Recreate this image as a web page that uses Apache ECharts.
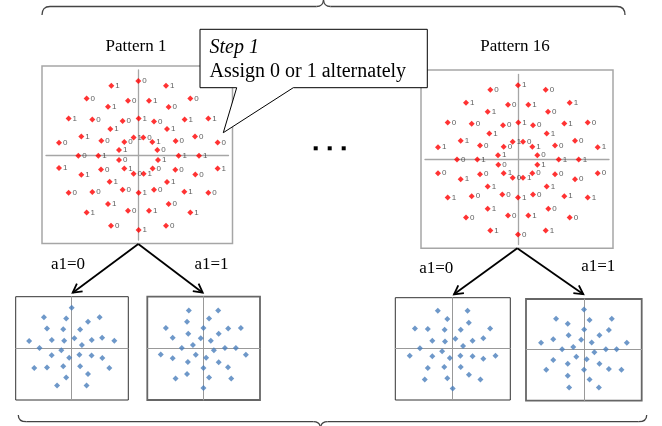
<!DOCTYPE html>
<html><head><meta charset="utf-8">
<script src="https://cdn.jsdelivr.net/npm/echarts@6/dist/echarts.min.js"></script>
<style>html,body{margin:0;padding:0;background:#fff}#c{width:662px;height:426px}</style>
</head><body><div id="c"></div>
<script>
// ---- text ----
const patternNames = ['Pattern 1', 'Pattern 16'];
const branchNames = ['a1=0', 'a1=1'];
const calloutTitle = 'Step 1';
const calloutText = 'Assign 0 or 1 alternately';

// ---- Pattern 1 constellation (x, y, assigned bit) ----
const p1X = [0,-27,27.7,-51.7,52,-10.3,10.7,-30.3,30.3,-69.7,-46,-15.7,0.3,15.7,46.3,70,-28,28.7,-57,-37,-14,-4.7,5,14,37.3,56.7,-79.3,79.3,-19.3,19,-60,-40,40.3,60.7,-19.3,19.7,-79.3,-37.3,-14,14.3,37,79.3,-57,-4.7,5.3,57,-28.7,28.7,-69.7,-46,-15.7,0.3,15.7,46,70,-30.3,30.3,-10.3,10.7,-51.7,52,-27.3,27.7,0.3];
const p1Y = [74.7,70,70,57.3,57.3,55,55,49,48.7,37.3,36.3,34.7,37.3,34.3,36.3,37.3,26.7,26.7,19.3,15,13.7,18.3,18.3,13.7,14.7,19.3,13,13.3,5.7,5.7,0,0,0,0,-4.3,-4.3,-12.3,-13.7,-12.7,-12.7,-14,-12.7,-19,-18,-18,-18.7,-26,-26.3,-37,-36.3,-34,-37,-34,-36,-37,-48.3,-48.3,-55,-55,-56.7,-56.7,-70,-70,-74.3];
const p1Bit = [0,1,1,0,0,0,1,1,0,1,0,0,1,0,1,1,1,1,1,0,0,1,0,1,0,0,0,0,1,0,0,1,1,1,0,1,1,0,1,0,0,1,1,0,1,0,1,1,0,0,0,1,0,1,0,1,0,0,1,1,1,0,0,1];

// ---- Pattern 16 constellation (x, y, assigned bit) ----
const p16X = [0,-27.7,27.7,-52,51.7,-10,10.3,-30.3,30,-70.3,-46.3,-15,0.3,15,46.3,69.7,-28.7,28.7,-80,-57.3,-38,-14.3,-5.3,5,14.3,37,57,79.7,-20,19.3,-61,-40.7,40.7,60.7,-19.7,19.3,-80,-57.3,-38,-14.3,-5.3,5,14.3,37,57,79.7,-30.3,28.7,-70.3,-46.3,-15.7,0,15,46.3,69.7,-30.3,30.3,-10,10.3,-52,51.7,-27.7,27.7,0];
const p16Y = [74.3,69.7,69.7,56.7,56.7,54.7,54.7,47.7,47.7,37,35.7,34.3,37,34.3,36,37,26,26,12.3,18.7,14,12.7,17.7,17.7,12.7,14,18.7,12.3,4.3,4.3,0,0,0,0,-5.3,-5.3,-13.7,-19.7,-14.7,-13.7,-18.3,-18.3,-13.7,-14.7,-19.7,-13.7,-27,-27,-38,-36.7,-35,-38,-35,-36.7,-38,-49.3,-49.3,-56,-56,-58,-58,-71,-71,-75];
const p16Bit = [1,0,0,1,1,0,1,1,0,0,0,0,1,0,1,0,1,1,1,1,0,0,1,0,1,0,0,1,1,0,0,1,1,1,0,1,0,1,0,1,0,1,0,0,0,0,1,1,1,0,0,1,0,1,1,1,0,0,1,0,0,1,1,0];

function pts(X, Y, B, keep) {
  const out = [];
  for (let i = 0; i < X.length; i++) {
    if (keep === undefined || B[i] === keep) out.push([X[i], Y[i], String(B[i])]);
  }
  return out;
}

// ---- layout (pixels) ----
const panels = [
  {left:46, top:70, width:182.5, height:170, x:[-92.3,90.2], y:[-84.3,85.7], big:true, set:0},
  {left:425, top:74.5, width:184, height:170, x:[-93,91], y:[-85,85], big:true, set:1},
  {left:15.7, top:296.7, width:112.6, height:103.3, x:[-104.3,105.4], y:[-96.8,95.5], set:0, bit:0, border:'#333', bw:1},
  {left:147.3, top:296.7, width:112.7, height:103.3, x:[-104.3,105.6], y:[-96.8,95.5], set:0, bit:1, border:'#666', bw:1.8},
  {left:395.3, top:297.7, width:115, height:102.3, x:[-106.9,107.3], y:[-96.3,94.2], set:1, bit:0, border:'#333', bw:1},
  {left:526, top:299, width:115.7, height:101.7, x:[-108,107.4], y:[-95.7,93.7], set:1, bit:1, border:'#666', bw:1.8}
];
const sets = [[p1X, p1Y, p1Bit], [p16X, p16Y, p16Bit]];

const grid = [], xAxis = [], yAxis = [], series = [];
panels.forEach((p, i) => {
  grid.push({left:p.left, top:p.top, width:p.width, height:p.height,
    show: !p.big, borderColor: p.border || '#aaa', borderWidth: p.bw || 1, backgroundColor:'transparent'});
  const ax = {gridIndex:i, type:'value', axisTick:{show:false}, axisLabel:{show:false}, splitLine:{show:false},
    axisLine:{show:true, onZero:true, lineStyle:{color: p.big ? '#a6a6a6' : '#999', width: p.big ? 1.3 : 1}}};
  xAxis.push(Object.assign({min:p.x[0], max:p.x[1]}, ax));
  yAxis.push(Object.assign({min:p.y[0], max:p.y[1]}, ax));
  const s = sets[p.set];
  series.push({
    type:'scatter', xAxisIndex:i, yAxisIndex:i, silent:true, animation:false,
    data: p.big ? pts(s[0], s[1], s[2]) : pts(s[0], s[1], s[2], p.bit),
    symbol:'diamond', symbolSize:6,
    itemStyle:{color: p.big ? '#ff0000' : '#4a7ebb'},
    label: p.big ? {show:true, position:'right', distance:1, formatter: d => d.data[2],
      fontSize:8, color:'#333', fontFamily:'Liberation Sans'} : {show:false},
    z: 3
  });
});

// ---- decorations ----
function arrow(x1, y1, x2, y2) {
  const a = Math.atan2(y2 - y1, x2 - x1), L = 10, s = 0.5;
  return [
    {type:'line', shape:{x1, y1, x2, y2}, style:{stroke:'#000', lineWidth:1.8}, z:5},
    {type:'polyline', shape:{points:[[x2 - L*Math.cos(a - s), y2 - L*Math.sin(a - s)], [x2, y2],
      [x2 - L*Math.cos(a + s), y2 - L*Math.sin(a + s)]]}, style:{stroke:'#000', lineWidth:1.8, fill:null}, z:5}
  ];
}
function brace(xl, xr, xm, yEnd, yLine, yTip) {
  const st = {stroke:'#444', lineWidth:1.3, fill:null};
  const d = yLine > yEnd ? 1 : -1;
  return [
    {type:'bezierCurve', shape:{x1:xl, y1:yEnd, cpx1:xl, cpy1:yLine, x2:xl + 8, y2:yLine}, style:st, z:5},
    {type:'line', shape:{x1:xl + 8, y1:yLine, x2:xm - 7, y2:yLine}, style:st, z:5},
    {type:'bezierCurve', shape:{x1:xm - 7, y1:yLine, cpx1:xm - 0.5, cpy1:yLine, x2:xm, y2:yTip}, style:st, z:5},
    {type:'bezierCurve', shape:{x1:xm, y1:yTip, cpx1:xm + 0.5, cpy1:yLine, x2:xm + 7, y2:yLine}, style:st, z:5},
    {type:'line', shape:{x1:xm + 7, y1:yLine, x2:xr - 8, y2:yLine}, style:st, z:5},
    {type:'bezierCurve', shape:{x1:xr - 8, y1:yLine, cpx1:xr, cpy1:yLine, x2:xr, y2:yEnd}, style:st, z:5}
  ];
}
const serif = 'Liberation Serif';
function txt(t, x, y, size, align, italic, z) {
  return {type:'text', z: z || 5, style:{text:t, x, y, align, verticalAlign:'middle',
    font:(italic ? 'italic ' : '') + size + 'px "' + serif + '"', fill:'#000'}};
}
const graphic = [
  {type:'rect', shape:{x:42, y:66, width:190.5, height:177.5}, style:{stroke:'#a6a6a6', lineWidth:1.5, fill:null}, z:1},
  {type:'rect', shape:{x:421, y:70, width:192, height:178.3}, style:{stroke:'#a6a6a6', lineWidth:1.5, fill:null}, z:1},
  txt(patternNames[0], 136, 47, 17, 'center'),
  txt(patternNames[1], 515, 47, 17, 'center'),
  {type:'rect', shape:{x:313.7, y:146.3, width:4, height:4}, style:{fill:'#000'}, z:5},
  {type:'rect', shape:{x:327.7, y:146.3, width:4, height:4}, style:{fill:'#000'}, z:5},
  {type:'rect', shape:{x:341.7, y:146.3, width:4, height:4}, style:{fill:'#000'}, z:5},
  {type:'polygon', shape:{points:[[200,29.3],[427.3,29.3],[427.3,87.7],[293.3,87.7],[223.3,132.7],[236.7,87.7],[200,87.7]]},
    style:{fill:'#fff', stroke:'#000', lineWidth:1}, z:10},
  txt(calloutTitle, 209.5, 48, 20, 'left', true, 11),
  txt(calloutText, 209.5, 71.5, 20, 'left', false, 11),
  txt(branchNames[0], 68, 265, 17, 'center'),
  txt(branchNames[1], 211.5, 265, 17, 'center'),
  txt(branchNames[0], 436.3, 269, 17, 'center'),
  txt(branchNames[1], 598.2, 267, 17, 'center')
].concat(
  brace(42, 625, 323.5, 15, 6.5, 0),
  brace(18.3, 646.7, 320.5, 415, 421.7, 428),
  arrow(138.3, 244, 72.7, 292.7), arrow(138.3, 244, 202.7, 292.7),
  arrow(517.3, 248.3, 454, 294.3), arrow(517.3, 248.3, 583.3, 294.3));

const chart = echarts.init(document.getElementById('c'), null, {renderer:'canvas'});
chart.setOption({animation:false, backgroundColor:'#fff', grid, xAxis, yAxis, series, graphic});
</script>
</body></html>
